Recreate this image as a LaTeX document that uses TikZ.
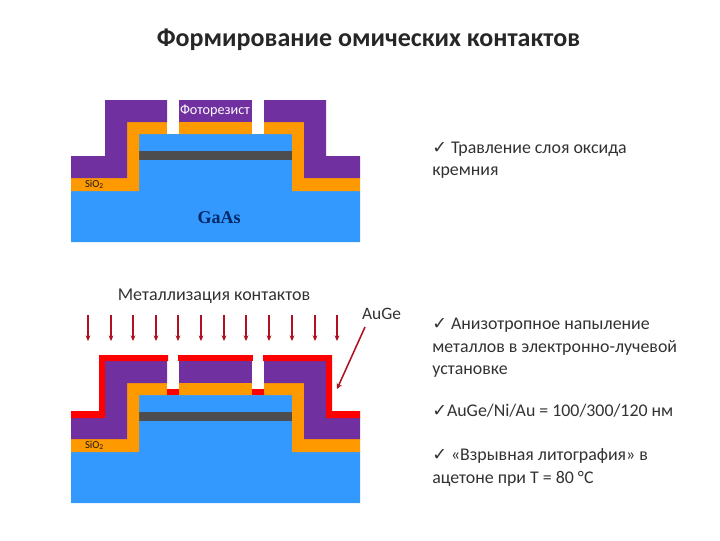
\documentclass[tikz,border=0pt]{standalone}
\usepackage{fontspec}
\setmainfont{Carlito}
\newfontfamily\serifgaas{Liberation Serif}
\newfontfamily\checkfont{DejaVu Sans}
\usetikzlibrary{arrows.meta}
\definecolor{cBlue}{RGB}{51,153,255}
\definecolor{cOrange}{RGB}{255,153,0}
\definecolor{cPurple}{RGB}{112,48,160}
\definecolor{cDark}{RGB}{77,77,77}
\definecolor{cRed}{RGB}{255,0,0}
\definecolor{cArrow}{RGB}{176,16,32}
\definecolor{cText}{RGB}{50,50,50}
\definecolor{cNavy}{RGB}{0,40,100}
\newcommand{\chk}{{\checkfont\fontsize{12.5}{12.5}\selectfont ✓}}

\begin{document}
\begin{tikzpicture}[x=0.025cm, y=-0.025cm,
                    bodytext/.style={anchor=north west, align=left, inner sep=0pt, text=cText,
                                     font=\fontsize{12.7}{15.9}\selectfont},
                    smalllabel/.style={inner sep=0pt, font=\fontsize{7.6}{8}\selectfont},
                    dep/.style={-{Stealth[length=4pt, width=3.5pt]}, cArrow, line width=0.9pt}]
    \useasboundingbox (0,0) rectangle (720,540);

    % Title
    \node[inner sep=0pt, text=black!85, font=\fontsize{18.5}{20}\selectfont\bfseries] (title) at (368.5,40) {Формирование омических контактов};

    % Wafer layers, both stages
    \foreach \dy in {0,261} {
        \begin{scope}[shift={(0,\dy)}]
            \fill[cBlue] (71,242) -- (71,191) -- (139,191) -- (139,134) -- (292,134) -- (292,191) -- (360,191) -- (360,242) -- cycle;
            \fill[cDark] (139,151) rectangle (292,160);
            \fill[cOrange] (71,191) -- (71,178) -- (127,178) -- (127,122) -- (304,122) -- (304,178) -- (360,178) -- (360,191) -- (292,191) -- (292,134) -- (139,134) -- (139,191) -- cycle;
            \fill[white] (167,122) rectangle (179,134);
            \fill[white] (252,122) rectangle (264,134);
            \fill[cPurple] (71,178) -- (71,156) -- (105,156) -- (105,100) -- (167,100) -- (167,122) -- (127,122) -- (127,178) -- cycle;
            \fill[cPurple] (179,100) rectangle (252,122);
            \fill[cPurple] (360,178) -- (360,156) -- (326,156) -- (326,100) -- (264,100) -- (264,122) -- (304,122) -- (304,178) -- cycle;
        \end{scope}
    }

    % Metal on the second stage
    \fill[cRed] (71,418) -- (71,411) -- (99,411) -- (99,355) -- (168,355) -- (168,361) -- (105,361) -- (105,418) -- cycle;
    \fill[cRed] (178,355) rectangle (253,361);
    \fill[cRed] (360,418) -- (360,411) -- (332,411) -- (332,355) -- (263,355) -- (263,361) -- (326,361) -- (326,418) -- cycle;
    \fill[cRed] (167,389) rectangle (179,395);
    \fill[cRed] (252,389) rectangle (264,395);

    % Labels in the upper stage
    \node[smalllabel, text=white, font=\fontsize{10.1}{11}\selectfont] (resist) at (215,111) {Фоторезист};
    \node[smalllabel, text=black!90] (oxideA) at (94.5,184.5) {SiO\textsubscript{2}};
    \node[inner sep=0pt, text=cNavy, font=\serifgaas\fontsize{12.8}{14}\selectfont\bfseries] (gaas) at (219,218) {GaAs};

    % Labels in the lower stage
    \node[smalllabel, text=black!90] (oxideB) at (94.5,445.5) {SiO\textsubscript{2}};
    \node[inner sep=0pt, text=cText, font=\fontsize{12.8}{14}\selectfont] (metal) at (214,296) {Металлизация контактов};
    \node[inner sep=0pt, text=cText, font=\fontsize{12.4}{14}\selectfont] (auge) at (381.5,314) {AuGe};
    \coordinate (augetail) at (365,327);
    \coordinate (augetip) at (337,389);
    \draw[cArrow, line width=1.1pt, -{Stealth[length=4pt, width=4pt]}] (augetail) -- (augetip);

    % Deposition arrows
    \foreach \x in {88,111,133,156,178,201,224,246,269,292,315,337} {
        \coordinate (top\x) at (\x,315);
        \coordinate (bot\x) at (\x,341);
        \draw[dep] (top\x) -- (bot\x);
    }

    % Right hand notes
    \node[bodytext] (noteA) at (432,141.5) {\chk\ Травление слоя оксида\\кремния};
    \node[bodytext] (noteB) at (432,318) {\chk\ Анизотропное напыление\\металлов в электронно-лучевой\\установке};
    \node[bodytext] (noteC) at (432,403.5) {\chk AuGe/Ni/Au = 100/300/120 нм};
    \node[bodytext] (noteD) at (432,448.5) {\chk\ «Взрывная литография» в\\ацетоне при T = 80 °C};
\end{tikzpicture}
\end{document}
